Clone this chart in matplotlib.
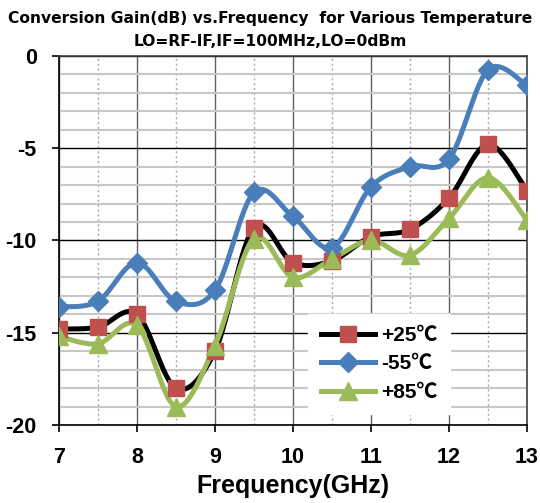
import numpy as np
import matplotlib
matplotlib.use("Agg")
import matplotlib.pyplot as plt
from matplotlib.lines import Line2D
from matplotlib.ticker import MultipleLocator

freq = [7, 7.5, 8, 8.5, 9, 9.5, 10, 10.5, 11, 11.5, 12, 12.5, 13]
gain_p25 = [-14.8, -14.7, -14.0, -18.0, -16.0, -9.3, -11.2, -11.1, -9.8, -9.4, -7.7, -4.8, -7.3]
gain_m55 = [-13.6, -13.3, -11.2, -13.3, -12.7, -7.4, -8.7, -10.4, -7.1, -6.0, -5.6, -0.76, -1.6]
gain_p85 = [-15.2, -15.6, -14.6, -19.0, -15.7, -9.9, -12.0, -11.0, -10.0, -10.8, -8.8, -6.6, -8.9]
labels = ["+25\u2103", "-55\u2103", "+85\u2103"]
xticks = [7, 8, 9, 10, 11, 12, 13]
yticks = [0, -5, -10, -15, -20]

FAM = ["Liberation Sans", "Noto Sans CJK SC", "DejaVu Sans"]
plt.rcParams["font.family"] = FAM
plt.rcParams["font.weight"] = "bold"


def smooth(x, y, sx=78.0, sy=18.45, n=30):
    # Excel-like smoothed line (Catmull-Rom Bezier) computed in display-proportional units
    P = np.column_stack([np.asarray(x) * sx, np.asarray(y) * sy])
    out = []
    for i in range(len(P) - 1):
        p0 = P[i - 1] if i > 0 else P[i]
        p1 = P[i]
        p2 = P[i + 1]
        p3 = P[i + 2] if i + 2 < len(P) else P[i + 1]
        c1 = p1 + (p2 - p0) / 6.0
        c2 = p2 - (p3 - p1) / 6.0
        t = np.linspace(0, 1, n)[:, None]
        seg = ((1 - t) ** 3) * p1 + 3 * ((1 - t) ** 2) * t * c1 + 3 * (1 - t) * t ** 2 * c2 + t ** 3 * p2
        out.append(seg if i == 0 else seg[1:])
    out = np.vstack(out)
    return out[:, 0] / sx, out[:, 1] / sy


fig = plt.figure(figsize=(5.4, 5.03), dpi=100)
ax = fig.add_axes([0.109, 0.155, 0.867, 0.734])

series = [
    (gain_p25, "black", "#C0504D", "s", 12),
    (gain_m55, "#4A7EBB", "#4A7EBB", "D", 10),
    (gain_p85, "#9BBB59", "#9BBB59", "^", 13),
]
handles = []
for (vals, lc, mc, mk, ms), lab in zip(series, labels):
    xs, ys = smooth(freq, vals)
    ax.plot(xs, ys, color=lc, lw=3.6, solid_capstyle="round", zorder=3)
for (vals, lc, mc, mk, ms), lab in zip(series, labels):
    ax.plot(freq, vals, ls="none", marker=mk, ms=ms, mfc=mc, mec=mc, zorder=4)
    handles.append(Line2D([0], [0], color=lc, lw=3.6, marker=mk, ms=ms, mfc=mc, mec=mc))

ax.set_xlim(7, 13)
ax.set_ylim(-20, 0)
tkw = dict(fontfamily="Liberation Sans", fontweight="bold", fontsize=15.5)
ax.set_xticks(xticks, [str(v) for v in xticks], **tkw)
ax.set_yticks(yticks, [str(v) for v in yticks], **tkw)
ax.xaxis.set_minor_locator(MultipleLocator(0.5))
ax.yaxis.set_minor_locator(MultipleLocator(1))
ax.grid(which="minor", axis="y", color="#C8C8C8", lw=1.5, zorder=0)
ax.grid(which="minor", axis="x", color="#A8A8A8", lw=1.0, ls=(0, (1.5, 2)), zorder=0)
ax.grid(which="major", axis="x", color="#606060", lw=1.0, zorder=1)
ax.grid(which="major", axis="y", color="black", lw=1.0, zorder=1)
ax.set_axisbelow(True)
for s in ax.spines.values():
    s.set_color("#404040")
    s.set_linewidth(1.2)
ax.spines["left"].set_color("black")
ax.spines["bottom"].set_color("black")

ax.tick_params(which="major", direction="out", length=5, width=1.2, color="black")
ax.tick_params(which="minor", length=0)
ax.tick_params(axis="x", pad=11)
ax.tick_params(axis="y", pad=11)

ax.set_xlabel("Frequency(GHz)", fontweight="bold", fontsize=18, labelpad=4)

leg = ax.legend(handles, labels, loc="upper left", bbox_to_anchor=(0.51, 0.33, 0.0, 0.0),
                frameon=True, fancybox=False, framealpha=1.0, edgecolor="white",
                prop={"family": FAM, "weight": "bold", "size": 15},
                handlelength=2.6, handletextpad=0.3, labelspacing=0.45, borderpad=0.6)
leg.set_zorder(5)

fig.text(0.5, 0.963, "Conversion Gain(dB) vs.Frequency  for Various Temperature",
         ha="center", va="center", fontfamily="DejaVu Sans", fontweight="bold", fontsize=11.2)
fig.text(0.5, 0.918, "LO=RF-IF,IF=100MHz,LO=0dBm",
         ha="center", va="center", fontfamily="DejaVu Sans", fontweight="bold", fontsize=11.2)

fig.savefig("out.png", dpi=100)
